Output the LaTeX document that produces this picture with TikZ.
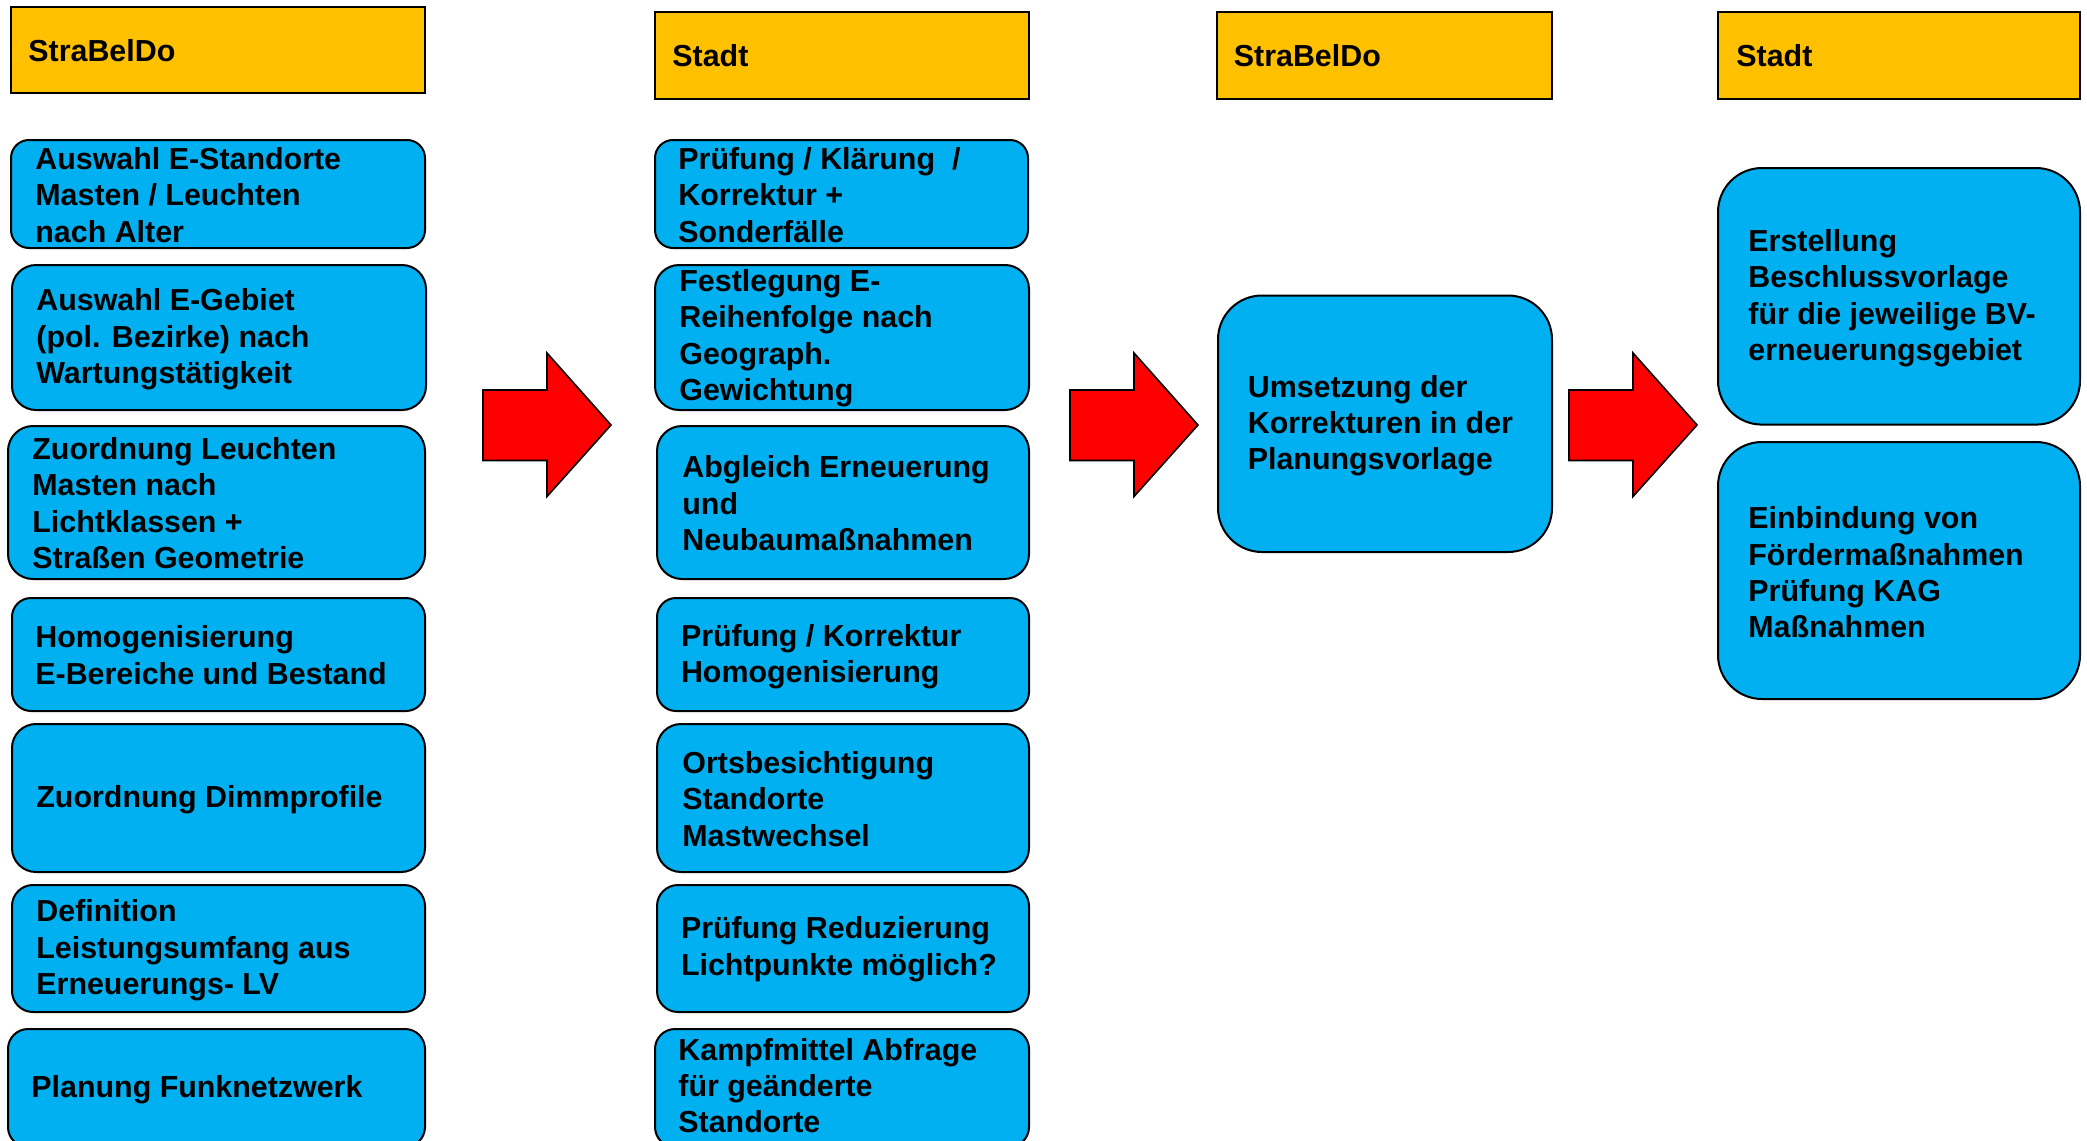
\documentclass[tikz,border=0pt]{standalone}
\usepackage{fontspec}
\setmainfont{Liberation Sans}
\definecolor{hdrcol}{HTML}{FFC000}
\definecolor{boxcol}{HTML}{00B0F0}
\definecolor{arrcol}{HTML}{FF0000}
\tikzset{
  hdr/.style={draw=black, line width=1pt, fill=hdrcol, inner sep=0pt},
  stepbox/.style={draw=black, line width=1pt, fill=boxcol, inner sep=0pt},
  txt/.style={font=\bfseries\fontsize{15.2}{18.2}\selectfont, align=left, inner sep=0pt, anchor=west, text=black, yshift=-1pt},
  blockarrow/.style={draw=black, line width=0.8pt, fill=arrcol},
}
\begin{document}
\begin{tikzpicture}[x=0.5pt,y=-0.5pt]
\useasboundingbox (0,0) rectangle (2087,1140);
\clip (0,0) rectangle (2087,1140);
\fill[white] (0,0) rectangle (2087,1140);

% headers
\node[hdr, minimum width=207pt, minimum height=43pt] (h1) at (218,50) {};
\node[txt] (h1t) at ([xshift=9pt,yshift=0.6pt]h1.west) {StraBelDo};
\node[hdr, minimum width=187pt, minimum height=43.25pt] (h2) at (842,55.25) {};
\node[txt] (h2t) at ([xshift=9pt,yshift=0.6pt]h2.west) {Stadt};
\node[hdr, minimum width=167.75pt, minimum height=43.25pt] (h3) at (1384.25,55.25) {};
\node[txt] (h3t) at ([xshift=9pt,yshift=0.6pt]h3.west) {StraBelDo};
\node[hdr, minimum width=181pt, minimum height=43.25pt] (h4) at (1899,55.25) {};
\node[txt] (h4t) at ([xshift=9.5pt,yshift=0.6pt]h4.west) {Stadt};

% column 1
\node[stepbox, rounded corners=9pt, minimum width=207pt, minimum height=54pt] (b1) at (218,194) {};
\node[txt] (b1t) at ([xshift=12.5pt,yshift=0.6pt]b1.west) {Auswahl E-Standorte\\Masten / Leuchten\\nach Alter};
\node[stepbox, rounded corners=12pt, minimum width=207pt, minimum height=72.5pt] (b2) at (219,337.5) {};
\node[txt] (b2t) at ([xshift=12.5pt]b2.west) {Auswahl E-Gebiet\\(pol. Bezirke) nach\\Wartungstätigkeit};
\node[stepbox, rounded corners=12.5pt, minimum width=208.5pt, minimum height=76.5pt] (b3) at (216.5,502.5) {};
\node[txt] (b3t) at ([xshift=12.5pt,yshift=0.6pt]b3.west) {Zuordnung Leuchten\\Masten nach\\Lichtklassen +\\Straßen Geometrie};
\node[stepbox, rounded corners=9.5pt, minimum width=206.5pt, minimum height=56.5pt] (b4) at (218.5,654.5) {};
\node[txt] (b4t) at ([xshift=12pt,yshift=0.6pt]b4.west) {Homogenisierung\\E-Bereiche und Bestand};
\node[stepbox, rounded corners=12pt, minimum width=206.5pt, minimum height=74pt] (b5) at (218.5,798) {};
\node[txt] (b5t) at ([xshift=12.5pt]b5.west) {Zuordnung Dimmprofile};
\node[stepbox, rounded corners=10.5pt, minimum width=206.5pt, minimum height=63.5pt] (b6) at (218.5,948.5) {};
\node[txt] (b6t) at ([xshift=12.5pt]b6.west) {Definition\\Leistungsumfang aus\\Erneuerungs- LV};
\node[stepbox, rounded corners=10pt, minimum width=208.5pt, minimum height=59pt] (b7) at (216.5,1088) {};
\node[txt] (b7t) at ([xshift=12pt,yshift=0.4pt]b7.west) {Planung Funknetzwerk};

% column 2
\node[stepbox, rounded corners=9pt, minimum width=186.5pt, minimum height=54pt] (c1) at (841.5,194) {};
\node[txt] (c1t) at ([xshift=12pt,yshift=0.6pt]c1.west) {Prüfung / Klärung~~/\\Korrektur +\\Sonderfälle};
\node[stepbox, rounded corners=12pt, minimum width=187pt, minimum height=72.5pt] (c2) at (842,337.5) {};
\node[txt] (c2t) at ([xshift=12.5pt,yshift=0.6pt]c2.west) {Festlegung E-\\Reihenfolge nach\\Geograph.\\Gewichtung};
\node[stepbox, rounded corners=12.5pt, minimum width=186pt, minimum height=76.5pt] (c3) at (843,502.5) {};
\node[txt] (c3t) at ([xshift=13pt,yshift=0.6pt]c3.west) {Abgleich Erneuerung\\und\\Neubaumaßnahmen};
\node[stepbox, rounded corners=9.5pt, minimum width=186pt, minimum height=56.5pt] (c4) at (843,654.5) {};
\node[txt] (c4t) at ([xshift=12.3pt]c4.west) {Prüfung / Korrektur\\Homogenisierung};
\node[stepbox, rounded corners=12pt, minimum width=186pt, minimum height=74pt] (c5) at (843,798) {};
\node[txt] (c5t) at ([xshift=13pt,yshift=0.6pt]c5.west) {Ortsbesichtigung\\Standorte\\Mastwechsel};
\node[stepbox, rounded corners=10.5pt, minimum width=186pt, minimum height=63.5pt] (c6) at (843,948.5) {};
\node[txt] (c6t) at ([xshift=12.3pt,yshift=0.6pt]c6.west) {Prüfung Reduzierung\\Lichtpunkte möglich?};
\node[stepbox, rounded corners=10pt, minimum width=187pt, minimum height=59pt] (c7) at (842,1088) {};
\node[txt] (c7t) at ([xshift=12pt,yshift=2.2pt]c7.west) {Kampfmittel Abfrage\\für geänderte\\Standorte};

% column 3
\node[stepbox, rounded corners=22pt, minimum width=167pt, minimum height=128.25pt] (e1) at (1385,423.75) {};
\node[txt] (e1t) at ([xshift=15.2pt]e1.west) {Umsetzung der\\Korrekturen in der\\Planungsvorlage};

% column 4
\node[stepbox, rounded corners=22pt, minimum width=181pt, minimum height=128.3pt] (d1) at (1899,296.3) {};
\node[txt] (d1t) at ([xshift=15.5pt]d1.west) {Erstellung\\Beschlussvorlage\\für die jeweilige BV-\\erneuerungsgebiet};
\node[stepbox, rounded corners=22pt, minimum width=181pt, minimum height=128.5pt] (d2) at (1899,570.5) {};
\node[txt] (d2t) at ([xshift=15.5pt]d2.west) {Einbindung von\\Fördermaßnahmen\\Prüfung KAG\\Maßnahmen};

% block arrows
\foreach \dx in {0,587,1086}{
  \draw[blockarrow, shift={(\dx,0)}] (483,390) -- (547,390) -- (547,353) -- (611,425)
    -- (547,496.5) -- (547,460.5) -- (483,460.5) -- cycle;
}
\end{tikzpicture}
\end{document}
